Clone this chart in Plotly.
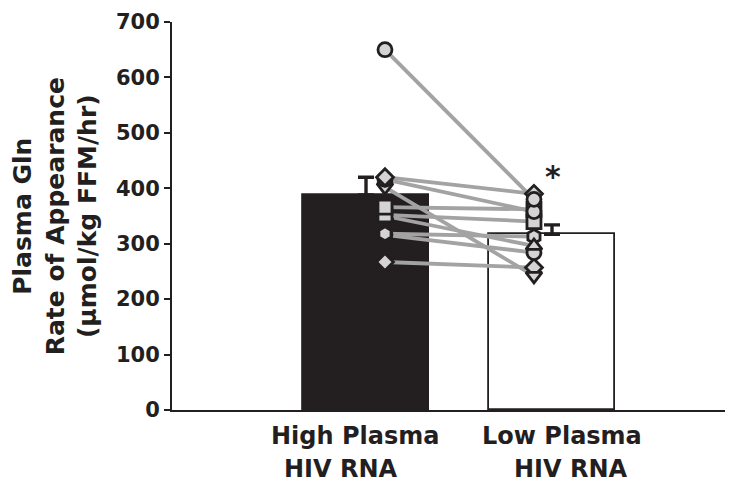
import plotly.graph_objects as go

# ---- data ----
group_line1 = ["High Plasma", "Low Plasma"]
group_line2 = ["HIV RNA", "HIV RNA"]
group_pos = [1, 2]
bar_means = [388, 317]
bar_sem = [32, 17]

subject_symbols = ["circle", "diamond", "circle", "triangle-down", "square",
                   "square", "triangle-up", "hexagon", "circle", "diamond"]
high_values = [650, 420, 416, 402, 366, 352, 350, 318, 316, 267]
low_values = [380, 390, 358, 242, 362, 340, 296, 313, 284, 257]

y_ticks = [0, 100, 200, 300, 400, 500, 600, 700]

high_x = 1.102
low_x = 1.903

ink = "#231f20"
fnt = "DejaVu Sans, Liberation Sans, sans-serif"

fig = go.Figure()

fig.add_trace(go.Bar(
    x=group_pos, y=bar_means, width=0.677,
    marker=dict(color=[ink, "white"], line=dict(color=ink, width=1.8)),
    error_y=dict(type="data", symmetric=False, array=bar_sem,
                 arrayminus=[0, 0], color=ink, thickness=3.4, width=8),
    showlegend=False,
))

# connecting lines
lx, ly = [], []
for h, l in zip(high_values, low_values):
    lx += [high_x, low_x, None]
    ly += [h, l, None]
fig.add_trace(go.Scatter(x=lx, y=ly, mode="lines",
                         line=dict(color="#a3a3a3", width=3.8),
                         showlegend=False, hoverinfo="skip"))

# markers
for i in range(len(high_values) - 1, -1, -1):
    sz = 13 if subject_symbols[i] == "diamond" else 14
    fig.add_trace(go.Scatter(
        x=[high_x, low_x], y=[high_values[i], low_values[i]], mode="markers",
        marker=dict(symbol=subject_symbols[i], size=sz, color="#d4d4d4",
                    line=dict(color=ink, width=2.8)),
        showlegend=False))

annotations = []
for p, t1, t2, dx1, dx2 in zip(group_pos, group_line1, group_line2,
                                [-0.059, 0.054], [-0.134, 0.102]):
    annotations.append(dict(x=p + dx1, y=-0.068, xref="x", yref="paper", text=t1,
                            showarrow=False, font=dict(family=fnt, size=24, color=ink, weight="bold"),
                            xanchor="center", yanchor="middle"))
    annotations.append(dict(x=p + dx2, y=-0.152, xref="x", yref="paper", text=t2,
                            showarrow=False, font=dict(family=fnt, size=24, color=ink, weight="bold"),
                            xanchor="center", yanchor="middle"))

annotations.append(dict(x=2.005, y=422, xref="x", yref="y", text="*", showarrow=False,
                        font=dict(family=fnt, size=30, color=ink, weight="bold"),
                        xanchor="center", yanchor="middle"))

annotations.append(dict(x=-0.211, y=0.5, xref="paper", yref="paper",
                        text="Plasma Gln<br>Rate of Appearance<br>(µmol/kg FFM/hr)",
                        textangle=-90, showarrow=False,
                        font=dict(family=fnt, size=25, color=ink, weight="bold"),
                        xanchor="center", yanchor="middle"))

fig.update_layout(
    template="none",
    width=743, height=490,
    margin=dict(l=164, r=26, t=14, b=88),
    plot_bgcolor="white", paper_bgcolor="white",
    bargap=0,
    annotations=annotations,
    xaxis=dict(range=[-0.043, 2.93], showticklabels=False, ticks="",
               showgrid=False, zeroline=False, showline=True,
               linecolor=ink, linewidth=2),
    yaxis=dict(range=[0, 700], tickvals=y_ticks, ticks="outside", ticklen=6,
               tickwidth=2, tickcolor=ink, showgrid=False, zeroline=False,
               showline=True, linecolor=ink, linewidth=2,
               tickfont=dict(family=fnt, size=21, color=ink, weight="bold")),
)

fig.write_html("out.html")
